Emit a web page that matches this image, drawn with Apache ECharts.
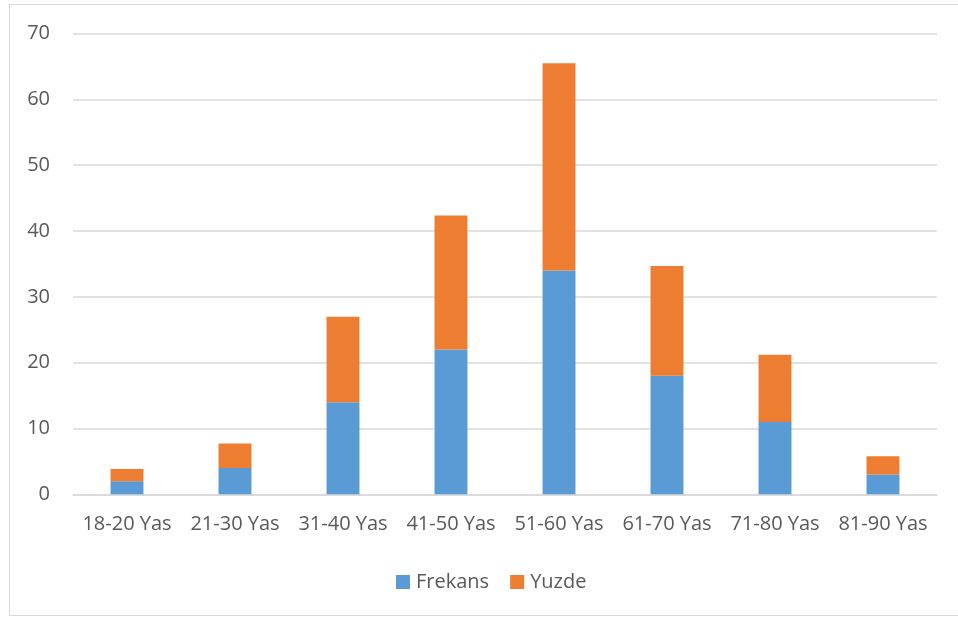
<!DOCTYPE html>
<html>
<head>
<meta charset="utf-8">
<script src="https://cdn.jsdelivr.net/npm/echarts@6/dist/echarts.min.js"></script>
<style>
  html, body { margin: 0; padding: 0; background: #fff; }
  #frame { position: absolute; left: 9px; top: 4px; width: 960px; height: 612px; border: 1px solid #d9d9d9; box-sizing: border-box; }
  #chart { position: absolute; left: 0; top: 0; width: 958px; height: 617px; }
</style>
</head>
<body>
<div id="frame"></div>
<div id="chart"></div>
<script>
// Age groups
const categories = ['18-20 Yas', '21-30 Yas', '31-40 Yas', '41-50 Yas', '51-60 Yas', '61-70 Yas', '71-80 Yas', '81-90 Yas'];
// Counts per age group
const frekans = [2, 4, 14, 22, 34, 18, 11, 3];
// Share of total (percent)
const yuzde = [1.85, 3.7, 12.96, 20.37, 31.48, 16.67, 10.19, 2.78];

const textColor = '#595959';
const font = 'Open Sans';
const fontSize = 20;

const chart = echarts.init(document.getElementById('chart'), null, { renderer: 'canvas' });
chart.setOption({
  animation: false,
  backgroundColor: 'transparent',
  textStyle: { fontFamily: font },
  grid: { left: 73, right: 21, top: 33.5, bottom: 122.7, containLabel: false },
  legend: {
    top: 567,
    left: 391,
    itemWidth: 14,
    itemHeight: 14,
    itemGap: 21,
    icon: 'rect',
    textStyle: { color: textColor, fontSize: fontSize, fontFamily: font, padding: [0, 0, 0, 1] },
    data: ['Frekans', 'Yuzde']
  },
  xAxis: {
    type: 'category',
    data: categories,
    axisTick: { show: false },
    axisLine: { lineStyle: { color: '#d9d9d9', width: 1.5 } },
    axisLabel: { color: textColor, fontSize: fontSize, fontFamily: font, margin: 20, interval: 0 }
  },
  yAxis: {
    type: 'value',
    min: 0,
    max: 70,
    interval: 10,
    axisLine: { show: false },
    axisTick: { show: false },
    splitLine: { lineStyle: { color: '#d9d9d9', width: 1.5 } },
    axisLabel: { color: textColor, fontSize: fontSize, fontFamily: font, margin: 23 }
  },
  series: [
    {
      name: 'Frekans',
      type: 'bar',
      stack: 'total',
      barWidth: '30.5%',
      itemStyle: { color: '#5B9BD5' },
      data: frekans
    },
    {
      name: 'Yuzde',
      type: 'bar',
      stack: 'total',
      barWidth: '30.5%',
      itemStyle: { color: '#ED7D31' },
      data: yuzde
    }
  ]
});
</script>
</body>
</html>
